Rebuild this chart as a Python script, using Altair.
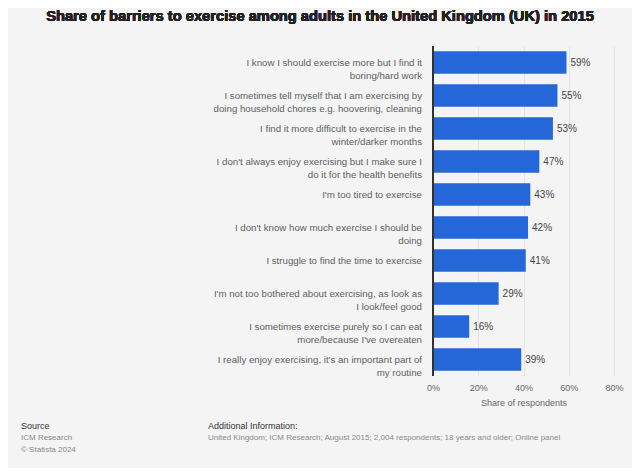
import altair as alt
import pandas as pd

categories = [
    "I know I should exercise more but I find it\nboring/hard work",
    "I sometimes tell myself that I am exercising by\ndoing household chores e.g. hoovering, cleaning",
    "I find it more difficult to exercise in the\nwinter/darker months",
    "I don't always enjoy exercising but I make sure I\ndo it for the health benefits",
    "I'm too tired to exercise",
    "I don't know how much exercise I should be\ndoing",
    "I struggle to find the time to exercise",
    "I'm not too bothered about exercising, as look as\nI look/feel good",
    "I sometimes exercise purely so I can eat\nmore/because I've overeaten",
    "I really enjoy exercising, it's an important part of\nmy routine",
]
values = [59, 55, 53, 47, 43, 42, 41, 29, 16, 39]
x_ticks = [0, 20, 40, 60, 80]

df = pd.DataFrame({"cat": categories, "val": values,
                   "lab": [f"{v}%" for v in values]})

FONT = "Liberation Sans"
W, H = 181, 330

y = alt.Y("cat:N", sort=categories, axis=None,
          scale=alt.Scale(paddingInner=0.32, paddingOuter=0.16))

bars = alt.Chart(df).mark_bar(color="#2567d9").encode(
    x=alt.X("val:Q", scale=alt.Scale(domain=[0, 80]),
            axis=alt.Axis(values=x_ticks, labelExpr="datum.value + '%'",
                          title="Share of respondents", titleFontWeight="normal",
                          titleFontSize=9, titleColor="#666", titlePadding=6,
                          labelFontSize=9, labelColor="#666", labelPadding=7,
                          labelFlush=False,
                          domain=False, ticks=False,
                          gridColor="#e4e4e4", labelFont=FONT, titleFont=FONT)),
    y=y,
)

vlabels = alt.Chart(df).mark_text(align="left", baseline="middle", dx=4,
                                  fontSize=10, color="#444", font=FONT).encode(
    x="val:Q", y=y, text="lab:N")

clabels = alt.Chart(df).mark_text(align="right", baseline="middle", lineBreak="\n",
                                  fontSize=9.7, color="#606060", font=FONT,
                                  lineHeight=13).encode(
    x=alt.value(-11), y=y, text="cat:N")

yline = alt.Chart(df).mark_rule(color="#333", strokeWidth=1).encode(
    x=alt.value(0), y=alt.value(0), y2=alt.value(H))

title = alt.Chart(df).mark_text(text="Share of barriers to exercise among adults in the United Kingdom (UK) in 2015",
                                fontSize=14.7, fontWeight="bold", color="#222",
                                font=FONT, align="center", baseline="middle").encode(
    x=alt.value(-113), y=alt.value(-29))

foot_dark = alt.Chart(pd.DataFrame({
    "t": ["Source", "Additional Information:"],
    "x": [-412, -225], "y": [380, 380]})).mark_text(
    fontSize=9, color="#333", font=FONT, align="left", baseline="middle").encode(
    x=alt.X("x:Q", scale=None), y=alt.Y("y:Q", scale=None), text="t:N")

foot_light = alt.Chart(pd.DataFrame({
    "t": ["ICM Research", "© Statista 2024",
          "United Kingdom; ICM Research; August 2015; 2,004 respondents; 18 years and older; Online panel"],
    "x": [-412, -412, -225], "y": [392, 404, 392]})).mark_text(
    fontSize=8, color="#888", font=FONT, align="left", baseline="middle").encode(
    x=alt.X("x:Q", scale=None), y=alt.Y("y:Q", scale=None), text="t:N")

chart = alt.layer(bars, vlabels, clabels, yline, title, foot_dark, foot_light).properties(
    width=W, height=H,
    padding={"left": 425, "top": 38, "right": 18, "bottom": 92},
    autosize=alt.AutoSizeParams(type="none"),
    background="#f4f4f4",
).configure_view(stroke=None)

chart.save("out.html", embed_options={"renderer": "svg", "actions": False})
